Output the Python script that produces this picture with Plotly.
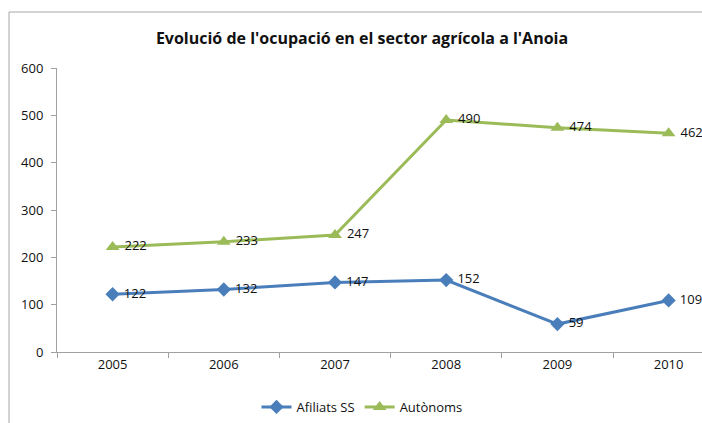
import plotly.graph_objects as go

years = ["2005", "2006", "2007", "2008", "2009", "2010"]
afiliats_ss = [122, 132, 147, 152, 59, 109]
autonoms = [222, 233, 247, 490, 474, 462]

FONT = "Open Sans"
W, H = 702, 423
L, R, T, B = 57, 0, 68, 71

fig = go.Figure()
fig.add_trace(go.Scatter(
    x=years, y=afiliats_ss, name="Afiliats SS",
    mode="lines+markers+text", text=[" " + str(v) for v in afiliats_ss],
    textposition="middle right", textfont=dict(size=13, color="#111"),
    line=dict(color="#4a7ebb", width=3), cliponaxis=False,
    marker=dict(symbol="diamond", size=11, color="#4a7ebb"),
))
fig.add_trace(go.Scatter(
    x=years, y=autonoms, name="Autònoms",
    mode="lines+markers+text", text=[" " + str(v) for v in autonoms],
    textposition="middle right", textfont=dict(size=13, color="#111"),
    line=dict(color="#9bbb59", width=3), cliponaxis=False,
    marker=dict(symbol="triangle-up", size=12, color="#9bbb59"),
))

# plot area in the original runs past the right edge (to ~722 px)
plot_w = W - L - R
cat_w = 111.2
x_max = -0.5 + plot_w / cat_w

fig.update_layout(
    width=W, height=H,
    margin=dict(l=L, r=R, t=T, b=B),
    paper_bgcolor="white", plot_bgcolor="white",
    font=dict(family=FONT, size=12, color="#222"),
    title=dict(text="<b>Evolució de l'ocupació en el sector agrícola a l'Anoia</b>",
               x=362 / W, xanchor="center", y=1 - 38 / H, yanchor="middle",
               font=dict(size=16, color="#111")),
    showlegend=True,
    legend=dict(orientation="h", x=(362 - L) / plot_w, xanchor="center",
                y=-(407 - (H - B)) / (H - T - B), yanchor="middle",
                font=dict(size=13, color="#111"), itemwidth=30),
    xaxis=dict(type="category", range=[-0.5, x_max], showgrid=False,
               showline=True, linecolor="#a0a0a0", linewidth=1,
               ticks="outside", ticklen=5, tickcolor="#a0a0a0",
               tickson="boundaries", tickfont=dict(size=13, color="#111")),
    yaxis=dict(range=[0, 600], dtick=100, showgrid=False, zeroline=False,
               showline=True, linecolor="#a0a0a0", linewidth=1,
               ticks="outside", ticklen=5, tickcolor="#a0a0a0",
               ticklabelstandoff=5,
               tickfont=dict(size=13, color="#111")),
)

# chart area border (cut off at right/bottom in the original)
px = lambda v: (v - L) / plot_w
py = lambda v: 1 - (v - T) / (H - T - B)
fig.add_shape(type="line", xref="paper", yref="paper",
              x0=px(9), x1=px(9), y0=py(12), y1=py(H + 5),
              line=dict(color="#a6a6a6", width=1))
fig.add_shape(type="line", xref="paper", yref="paper",
              x0=px(9), x1=px(W + 5), y0=py(12), y1=py(12),
              line=dict(color="#a6a6a6", width=1))

fig.write_html("out.html", config={"displayModeBar": False},
               post_script="document.body.style.margin='0';")
